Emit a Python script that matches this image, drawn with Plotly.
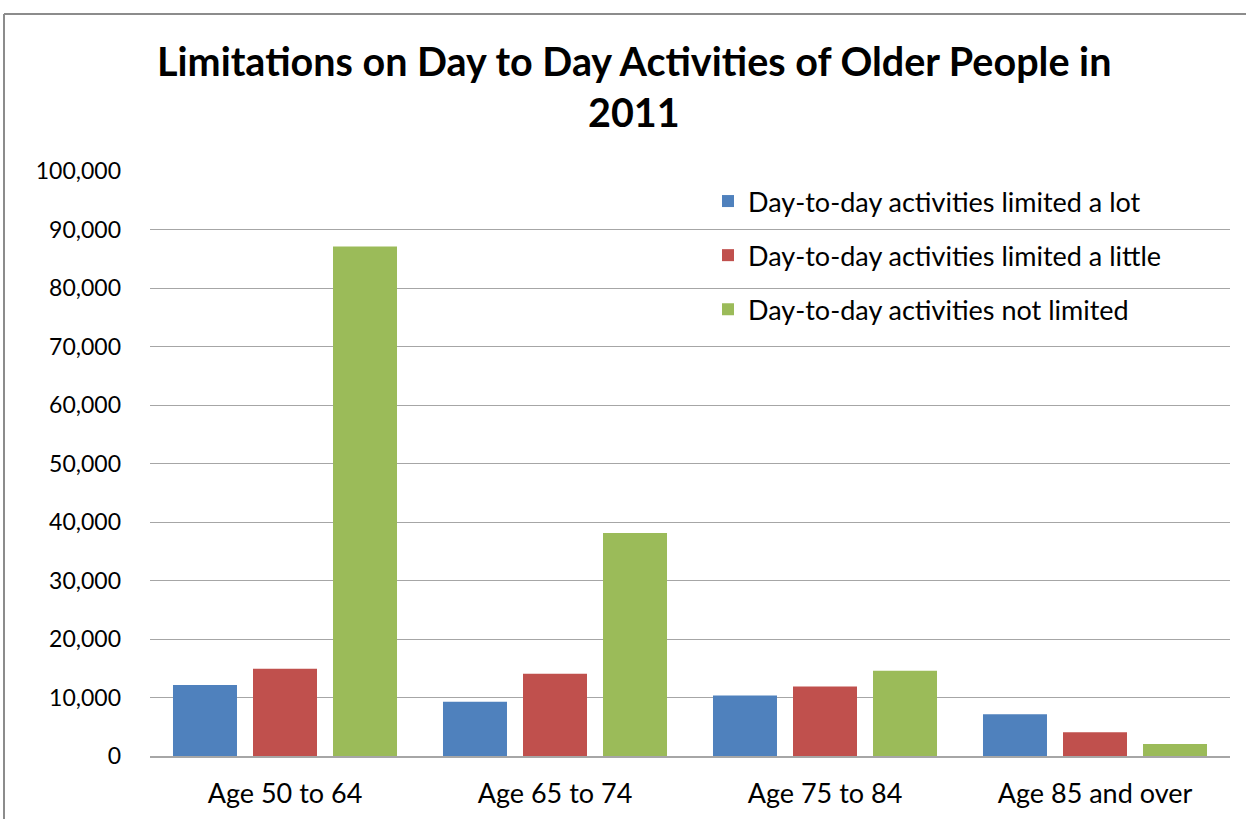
import plotly.graph_objects as go

categories = ["Age 50 to 64", "Age 65 to 74", "Age 75 to 84", "Age 85 and over"]
series_names = [
    "Day-to-day activities limited a lot",
    "Day-to-day activities limited a little",
    "Day-to-day activities not limited",
]
limited_a_lot = [12150, 9280, 10360, 7120]
limited_a_little = [14900, 14060, 11900, 4040]
not_limited = [87100, 38100, 14570, 2050]
tick_values = [0, 10000, 20000, 30000, 40000, 50000, 60000, 70000, 80000, 90000, 100000]
tick_labels = ["0", "10,000", "20,000", "30,000", "40,000", "50,000",
               "60,000", "70,000", "80,000", "90,000", "100,000"]
title_lines = ["Limitations on Day to Day Activities of Older People in", "2011"]
colors = ["#4F81BD", "#C0504D", "#9BBB59"]

W, H = 1246, 819
ml, mr, mt, mb = 150, 16, 171, 63
FONT = "Lato"

fig = go.Figure()
for i, (name, vals) in enumerate(zip(series_names, [limited_a_lot, limited_a_little, not_limited])):
    fig.add_trace(go.Bar(
        x=categories, y=vals, name=name, legendgroup=f"g{i}",
        marker=dict(color=colors[i], line=dict(width=0)),
    ))

pw = W - ml - mr
ph = H - mt - mb
fig.update_layout(
    width=W, height=H,
    margin=dict(l=ml, r=mr, t=mt, b=mb, autoexpand=False),
    paper_bgcolor="white", plot_bgcolor="white",
    barmode="group", bargap=0.111, bargroupgap=0.2,
    font=dict(family=FONT, color="black"),
    showlegend=True,
    legend=dict(
        x=(708 - ml) / pw, xanchor="left",
        y=1 - (177 - mt) / ph, yanchor="top",
        bgcolor="rgba(0,0,0,0)", font=dict(size=27, family=FONT),
        tracegroupgap=16, itemwidth=30,
    ),
    xaxis=dict(
        showgrid=False, showline=True, linecolor="#A6A6A6", linewidth=1.5,
        ticks="", tickfont=dict(size=27, family=FONT), ticklabelstandoff=13,
        automargin=False,
    ),
    yaxis=dict(
        range=[0, 100000], tickvals=tick_values, ticktext=tick_labels,
        showgrid=True, gridcolor="#A6A6A6", gridwidth=1.3,
        showline=False, zeroline=False, ticks="",
        tickfont=dict(size=23, family=FONT), ticklabelstandoff=28,
        automargin=False,
    ),
)
# two-line title as annotations for exact line spacing
for txt, ypix in zip(title_lines, [60, 112]):
    fig.add_annotation(
        text=f"<b>{txt}</b>", xref="paper", yref="paper",
        x=(634 - ml) / pw, y=1 + (mt - ypix) / ph, xanchor="center", yanchor="middle",
        showarrow=False, font=dict(size=39.5, family=FONT, color="black"),
    )
# chart outer border (top and left visible in the reference)
fig.add_shape(type="line", xref="paper", yref="paper",
              x0=(4 - ml) / pw, x1=(W - ml) / pw, y0=1 + (mt - 14) / ph, y1=1 + (mt - 14) / ph,
              line=dict(color="#8C8C8C", width=2))
fig.add_shape(type="line", xref="paper", yref="paper",
              x0=(4 - ml) / pw, x1=(4 - ml) / pw, y0=1 + (mt - 14) / ph, y1=-(mb) / ph,
              line=dict(color="#8C8C8C", width=2))

fig.write_html("out.html", config={"displayModeBar": False},
               post_script="document.body.style.margin='0';")
